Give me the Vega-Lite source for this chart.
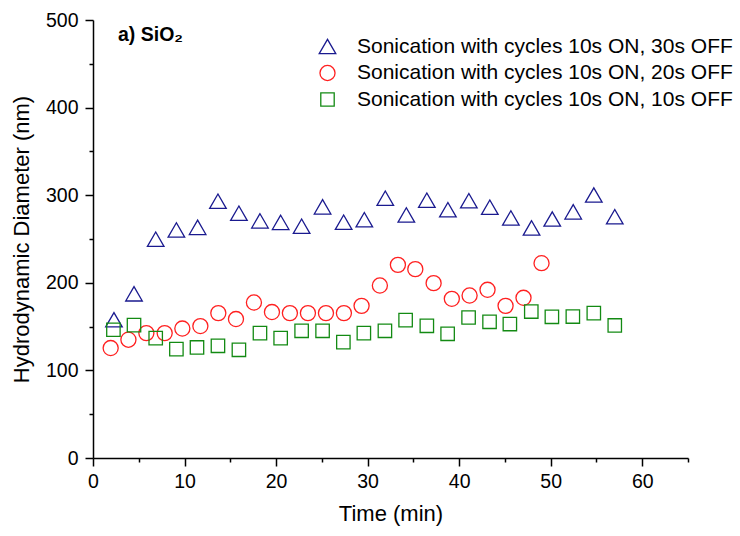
{
  "$schema": "https://vega.github.io/schema/vega-lite/v6.json",
  "width": 595,
  "height": 438,
  "autosize": "none",
  "padding": {"left": 93, "top": 20, "right": 52, "bottom": 78},
  "background": "white",
  "title": {"text": "a) SiO₂", "anchor": "start", "frame": "group", "baseline": "alphabetic", "offset": -50, "dx": 25, "font": "Liberation Sans", "fontSize": 19.5, "fontWeight": "bold", "color": "black"},
  "datasets": {
    "pts": [
      {"s": "Sonication with cycles 10s ON, 30s OFF", "t": 2.29, "d": 157.8},
      {"s": "Sonication with cycles 10s ON, 30s OFF", "t": 4.48, "d": 187.4},
      {"s": "Sonication with cycles 10s ON, 30s OFF", "t": 6.85, "d": 249.8},
      {"s": "Sonication with cycles 10s ON, 30s OFF", "t": 9.11, "d": 260.4},
      {"s": "Sonication with cycles 10s ON, 30s OFF", "t": 11.43, "d": 263.3},
      {"s": "Sonication with cycles 10s ON, 30s OFF", "t": 13.65, "d": 293.2},
      {"s": "Sonication with cycles 10s ON, 30s OFF", "t": 15.94, "d": 279.5},
      {"s": "Sonication with cycles 10s ON, 30s OFF", "t": 18.24, "d": 270.7},
      {"s": "Sonication with cycles 10s ON, 30s OFF", "t": 20.5, "d": 269.0},
      {"s": "Sonication with cycles 10s ON, 30s OFF", "t": 22.79, "d": 264.6},
      {"s": "Sonication with cycles 10s ON, 30s OFF", "t": 25.08, "d": 286.7},
      {"s": "Sonication with cycles 10s ON, 30s OFF", "t": 27.38, "d": 269.2},
      {"s": "Sonication with cycles 10s ON, 30s OFF", "t": 29.64, "d": 272.0},
      {"s": "Sonication with cycles 10s ON, 30s OFF", "t": 31.93, "d": 296.6},
      {"s": "Sonication with cycles 10s ON, 30s OFF", "t": 34.23, "d": 277.5},
      {"s": "Sonication with cycles 10s ON, 30s OFF", "t": 36.47, "d": 294.3},
      {"s": "Sonication with cycles 10s ON, 30s OFF", "t": 38.77, "d": 283.5},
      {"s": "Sonication with cycles 10s ON, 30s OFF", "t": 41.06, "d": 293.7},
      {"s": "Sonication with cycles 10s ON, 30s OFF", "t": 43.35, "d": 286.3},
      {"s": "Sonication with cycles 10s ON, 30s OFF", "t": 45.65, "d": 274.1},
      {"s": "Sonication with cycles 10s ON, 30s OFF", "t": 47.91, "d": 262.7},
      {"s": "Sonication with cycles 10s ON, 30s OFF", "t": 50.17, "d": 272.8},
      {"s": "Sonication with cycles 10s ON, 30s OFF", "t": 52.46, "d": 281.0},
      {"s": "Sonication with cycles 10s ON, 30s OFF", "t": 54.71, "d": 300.2},
      {"s": "Sonication with cycles 10s ON, 30s OFF", "t": 57.0, "d": 275.5},
      {"s": "Sonication with cycles 10s ON, 20s OFF", "t": 1.93, "d": 125.5},
      {"s": "Sonication with cycles 10s ON, 20s OFF", "t": 3.87, "d": 135.0},
      {"s": "Sonication with cycles 10s ON, 20s OFF", "t": 5.83, "d": 142.6},
      {"s": "Sonication with cycles 10s ON, 20s OFF", "t": 7.83, "d": 142.6},
      {"s": "Sonication with cycles 10s ON, 20s OFF", "t": 9.76, "d": 147.8},
      {"s": "Sonication with cycles 10s ON, 20s OFF", "t": 11.73, "d": 150.6},
      {"s": "Sonication with cycles 10s ON, 20s OFF", "t": 13.69, "d": 165.4},
      {"s": "Sonication with cycles 10s ON, 20s OFF", "t": 15.62, "d": 158.6},
      {"s": "Sonication with cycles 10s ON, 20s OFF", "t": 17.58, "d": 177.5},
      {"s": "Sonication with cycles 10s ON, 20s OFF", "t": 19.55, "d": 166.6},
      {"s": "Sonication with cycles 10s ON, 20s OFF", "t": 21.51, "d": 165.4},
      {"s": "Sonication with cycles 10s ON, 20s OFF", "t": 23.48, "d": 165.4},
      {"s": "Sonication with cycles 10s ON, 20s OFF", "t": 25.45, "d": 165.4},
      {"s": "Sonication with cycles 10s ON, 20s OFF", "t": 27.41, "d": 165.4},
      {"s": "Sonication with cycles 10s ON, 20s OFF", "t": 29.34, "d": 173.7},
      {"s": "Sonication with cycles 10s ON, 20s OFF", "t": 31.34, "d": 196.9},
      {"s": "Sonication with cycles 10s ON, 20s OFF", "t": 33.31, "d": 220.5},
      {"s": "Sonication with cycles 10s ON, 20s OFF", "t": 35.21, "d": 215.6},
      {"s": "Sonication with cycles 10s ON, 20s OFF", "t": 37.21, "d": 199.6},
      {"s": "Sonication with cycles 10s ON, 20s OFF", "t": 39.2, "d": 181.7},
      {"s": "Sonication with cycles 10s ON, 20s OFF", "t": 41.14, "d": 185.5},
      {"s": "Sonication with cycles 10s ON, 20s OFF", "t": 43.1, "d": 192.0},
      {"s": "Sonication with cycles 10s ON, 20s OFF", "t": 45.07, "d": 173.7},
      {"s": "Sonication with cycles 10s ON, 20s OFF", "t": 47.03, "d": 182.9},
      {"s": "Sonication with cycles 10s ON, 20s OFF", "t": 49.0, "d": 222.4},
      {"s": "Sonication with cycles 10s ON, 10s OFF", "t": 2.23, "d": 146.4},
      {"s": "Sonication with cycles 10s ON, 10s OFF", "t": 4.48, "d": 151.7},
      {"s": "Sonication with cycles 10s ON, 10s OFF", "t": 6.85, "d": 136.9},
      {"s": "Sonication with cycles 10s ON, 10s OFF", "t": 9.11, "d": 124.3},
      {"s": "Sonication with cycles 10s ON, 10s OFF", "t": 11.36, "d": 126.2},
      {"s": "Sonication with cycles 10s ON, 10s OFF", "t": 13.65, "d": 128.1},
      {"s": "Sonication with cycles 10s ON, 10s OFF", "t": 15.94, "d": 123.5},
      {"s": "Sonication with cycles 10s ON, 10s OFF", "t": 18.24, "d": 142.6},
      {"s": "Sonication with cycles 10s ON, 10s OFF", "t": 20.5, "d": 136.9},
      {"s": "Sonication with cycles 10s ON, 10s OFF", "t": 22.79, "d": 145.2},
      {"s": "Sonication with cycles 10s ON, 10s OFF", "t": 25.08, "d": 145.2},
      {"s": "Sonication with cycles 10s ON, 10s OFF", "t": 27.35, "d": 132.3},
      {"s": "Sonication with cycles 10s ON, 10s OFF", "t": 29.59, "d": 142.6},
      {"s": "Sonication with cycles 10s ON, 10s OFF", "t": 31.89, "d": 145.2},
      {"s": "Sonication with cycles 10s ON, 10s OFF", "t": 34.15, "d": 157.4},
      {"s": "Sonication with cycles 10s ON, 10s OFF", "t": 36.47, "d": 150.9},
      {"s": "Sonication with cycles 10s ON, 10s OFF", "t": 38.74, "d": 141.8},
      {"s": "Sonication with cycles 10s ON, 10s OFF", "t": 41.03, "d": 160.4},
      {"s": "Sonication with cycles 10s ON, 10s OFF", "t": 43.32, "d": 155.5},
      {"s": "Sonication with cycles 10s ON, 10s OFF", "t": 45.54, "d": 152.9},
      {"s": "Sonication with cycles 10s ON, 10s OFF", "t": 47.88, "d": 167.2},
      {"s": "Sonication with cycles 10s ON, 10s OFF", "t": 50.13, "d": 161.2},
      {"s": "Sonication with cycles 10s ON, 10s OFF", "t": 52.42, "d": 161.5},
      {"s": "Sonication with cycles 10s ON, 10s OFF", "t": 54.71, "d": 165.4},
      {"s": "Sonication with cycles 10s ON, 10s OFF", "t": 57.0, "d": 151.3}
    ]
  },
  "data": {"name": "pts"},
  "mark": {"type": "point", "filled": false, "strokeWidth": 1.3, "opacity": 1},
  "encoding": {
    "x": {
      "field": "t", "type": "quantitative",
      "scale": {"domain": [0, 65], "nice": false, "zero": false},
      "axis": {
        "title": "Time (min)",
        "values": [0, 5, 10, 15, 20, 25, 30, 35, 40, 45, 50, 55, 60, 65],
        "labelExpr": "datum.value % 10 === 0 && datum.value <= 60 ? datum.label : ''",
        "tickSize": {"condition": {"test": "datum.value % 10 === 0 && datum.value <= 60", "value": 8}, "value": 4},
        "labelPadding": 6,
        "titlePadding": 13
      }
    },
    "y": {
      "field": "d", "type": "quantitative",
      "scale": {"domain": [0, 500], "nice": false},
      "axis": {
        "title": "Hydrodynamic Diameter (nm)",
        "values": [0, 50, 100, 150, 200, 250, 300, 350, 400, 450, 500],
        "labelExpr": "datum.value % 100 === 0 ? datum.label : ''",
        "tickSize": {"condition": {"test": "datum.value % 100 === 0", "value": 8}, "value": 4},
        "labelPadding": 7,
        "titlePadding": 12
      }
    },
    "color": {
      "field": "s", "type": "nominal",
      "scale": {"domain": ["Sonication with cycles 10s ON, 30s OFF", "Sonication with cycles 10s ON, 20s OFF", "Sonication with cycles 10s ON, 10s OFF"], "range": ["#1a1a8f", "#ff2020", "#138a13"]},
      "legend": {"title": null}
    },
    "shape": {
      "field": "s", "type": "nominal",
      "scale": {"domain": ["Sonication with cycles 10s ON, 30s OFF", "Sonication with cycles 10s ON, 20s OFF", "Sonication with cycles 10s ON, 10s OFF"], "range": ["triangle-up", "circle", "square"]},
      "legend": {"title": null}
    },
    "size": {
      "field": "s", "type": "nominal",
      "scale": {"domain": ["Sonication with cycles 10s ON, 30s OFF", "Sonication with cycles 10s ON, 20s OFF", "Sonication with cycles 10s ON, 10s OFF"], "range": [275, 180, 150]},
      "legend": {"title": null}
    }
  },
  "config": {
    "view": {"stroke": null},
    "font": "Liberation Sans",
    "axis": {
      "grid": false,
      "domainColor": "black", "domainWidth": 1.5,
      "tickColor": "black", "tickWidth": 1.5,
      "labelFont": "Liberation Sans", "labelFontSize": 19.5, "labelColor": "black",
      "labelOverlap": false, "labelFlush": false,
      "titleFont": "Liberation Sans", "titleFontSize": 22, "titleFontWeight": "normal", "titleColor": "black"
    },
    "legend": {
      "orient": "none", "legendX": 224, "legendY": 16,
      "labelFont": "Liberation Sans", "labelFontSize": 21, "labelColor": "black",
      "labelLimit": 500, "labelOffset": 19, "rowPadding": 4.5,
      "symbolStrokeWidth": 1.3
    }
  }
}
